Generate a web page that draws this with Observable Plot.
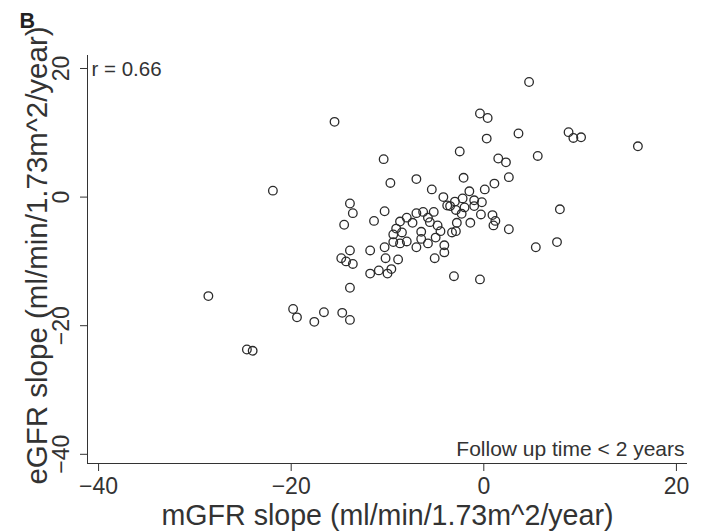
<!DOCTYPE html>
<html><head><meta charset="utf-8">
<script src="https://cdn.jsdelivr.net/npm/d3@7"></script>
<script src="https://cdn.jsdelivr.net/npm/@observablehq/plot@0.6"></script>
<style>body{margin:0;background:#fff} svg{display:block}</style>
</head><body><div id="chart"></div>
<script>
const mGFR = [-28.6,-24.6,-24.0,-21.9,-19.8,-19.4,-17.6,-16.6,-14.7,-13.9,
  -13.9,-15.5,-13.9,-13.6,-14.5,-13.9,-14.8,-14.3,-13.6,-11.8,
  -10.9,-10.0,-9.6,-11.8,-10.3,-10.2,-8.9,-11.4,-10.3,-10.4,
  -9.7,-7.0,-5.4,-8.7,-9.1,-9.4,-8.5,-9.4,-8.7,-8.0,
  -8.0,-7.0,-6.3,-5.2,-7.4,-5.8,-5.6,-4.8,-4.5,-6.5,
  -6.5,-5.0,-5.8,-7.0,-4.1,-4.1,-5.1,-3.1,-0.4,-4.2,
  -3.8,-3.5,-3.0,-2.2,-1.5,-2.1,-2.5,-1.0,-2.9,-2.0,
  -1.0,-0.2,0.1,1.1,2.6,-2.3,-2.8,-1.4,-0.3,0.9,
  1.2,1.0,2.6,-3.3,-2.9,4.7,-0.4,0.4,3.6,8.8,
  9.3,10.1,16.0,0.3,1.5,2.3,5.6,7.9,7.6,5.4];
const eGFR = [-15.4,-23.7,-23.9,1.0,-17.4,-18.7,-19.4,-17.9,-18.0,-19.1,
  -14.1,11.7,-1.0,-2.5,-4.3,-8.3,-9.5,-10.0,-10.4,-11.9,
  -11.4,-11.9,-11.2,-8.3,-7.8,-9.5,-9.7,-3.7,-2.2,5.9,
  2.2,2.8,1.2,-3.8,-4.9,-5.8,-5.5,-7.0,-7.2,-6.9,
  -3.2,-2.5,-2.3,-2.3,-4.0,-3.2,-3.9,-4.4,-5.3,-5.4,
  -6.5,-6.3,-7.2,-7.8,-7.5,-8.6,-9.5,-12.3,-12.8,0.0,
  -1.3,-1.4,-0.7,-0.2,0.9,3.0,7.1,-0.5,-2.0,-1.6,
  -1.4,-0.8,1.2,2.1,3.1,-2.6,-4.0,-4.0,-2.7,-2.8,
  -3.7,-4.4,-5.0,-5.5,-5.3,17.9,13.0,12.3,9.9,10.1,
  9.2,9.3,7.9,9.1,6.0,5.4,6.4,-1.9,-7.0,-7.8];
const xTicks = [-40, -20, 0, 20];
const yTicks = [-40, -20, 0, 20];
const xDomain = [-41.15, 21.15];
const yDomain = [-41.43, 22.02];
const panel = "B";
const rLabel = "r = 0.66";
const note = "Follow up time < 2 years";
const xTitle = "mGFR slope (ml/min/1.73m^2/year)";
const yTitle = "eGFR slope (ml/min/1.73m^2/year)";

const data = mGFR.map((x, i) => ({x, y: eGFR[i]}));
const fmt = d => d < 0 ? "\u2212" + Math.abs(d) : String(d);
const font = "'Liberation Sans', Arial, Helvetica, sans-serif";
const ink = "#333";

const chart = Plot.plot({
  width: 703, height: 531,
  marginLeft: 87, marginRight: 16, marginTop: 55, marginBottom: 68,
  style: {fontFamily: font, background: "#fff", color: ink},
  x: {domain: xDomain},
  y: {domain: yDomain},
  marks: [
    Plot.ruleX([xDomain[0]], {stroke: ink, strokeWidth: 1}),
    Plot.ruleY([yDomain[0]], {stroke: ink, strokeWidth: 1}),
    Plot.axisX({ticks: xTicks, tickSize: 8, tickPadding: 6, tickFormat: fmt, fontSize: 23, label: null, stroke: ink, fill: ink}),
    Plot.axisY({ticks: yTicks, tickSize: 7, tickPadding: 12, tickRotate: -90, textAnchor: "middle", lineAnchor: "bottom", tickFormat: fmt, fontSize: 23, label: null, stroke: ink, fill: ink}),
    Plot.dot(data, {x: "x", y: "y", r: 4.3, stroke: "#2b2b2b", strokeWidth: 1.3, fill: "none"}),
    Plot.text([xTitle], {text: d => d, frameAnchor: "bottom", dy: 61, lineAnchor: "bottom", fontSize: 28.6, fill: ink}),
    Plot.text([yTitle], {text: d => d, frameAnchor: "left", rotate: -90, dx: -41, dy: -4, lineAnchor: "bottom", textAnchor: "middle", fontSize: 29.5, fill: ink}),
    Plot.text([rLabel], {text: d => d, frameAnchor: "top-left", dx: 4, dy: 20, lineAnchor: "bottom", textAnchor: "start", fontSize: 20.5, fill: ink}),
    Plot.text([note], {text: d => d, frameAnchor: "bottom-right", dx: -3, dy: -8, lineAnchor: "bottom", textAnchor: "end", fontSize: 21, fill: ink}),
    Plot.text([panel], {text: d => d, frameAnchor: "top-left", dx: -68, dy: -28, lineAnchor: "bottom", textAnchor: "start", fontSize: 21.5, fontWeight: "bold", fill: "#222"})
  ]
});
document.getElementById("chart").appendChild(chart);
</script>
</body></html>
